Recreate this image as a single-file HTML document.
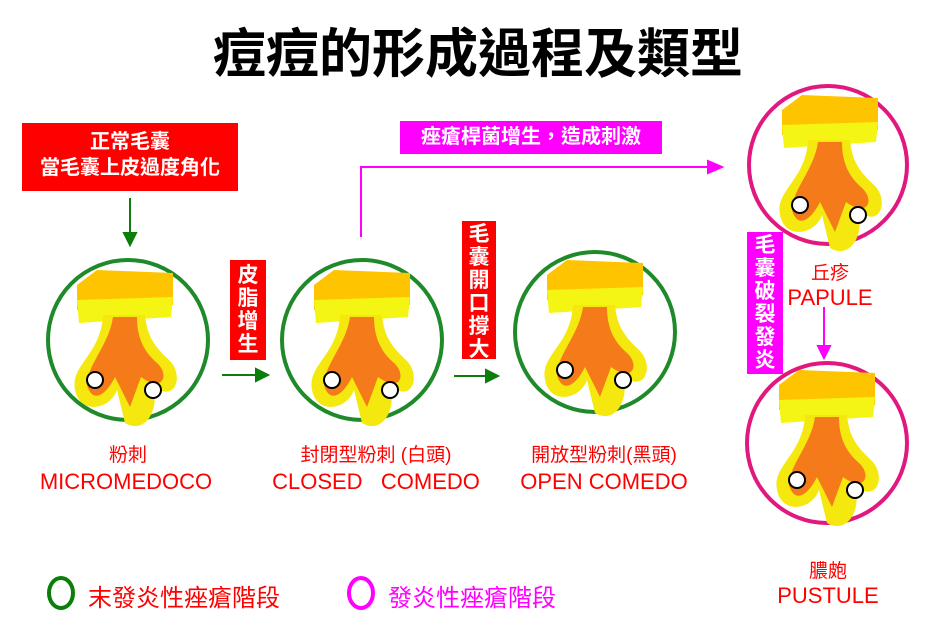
<!DOCTYPE html>
<html><head><meta charset="utf-8"><style>
body{margin:0;background:#fff;width:926px;height:629px;overflow:hidden;position:relative;font-family:"Liberation Sans","Noto Sans CJK TC",sans-serif}
.a{position:absolute}
.t{position:absolute;white-space:nowrap;text-align:center}
.vb{position:absolute;color:#fff;font-size:21px;line-height:23px;text-align:center;font-weight:bold}
</style></head><body>
<div class="t" style="left:0;width:956px;top:12px;font-size:53px;font-weight:bold;color:#000">痘痘的形成過程及類型</div>
<div class="a" style="left:22px;top:123px;width:216px;height:68px;background:#f00;color:#fff;font-size:20px;line-height:26px;text-align:center;padding-top:6px;box-sizing:border-box;font-weight:bold">正常毛囊<br>當毛囊上皮過度角化</div>
<div class="a" style="left:400px;top:121px;width:262px;height:33px;background:#f0f;color:#fff;font-size:20px;line-height:33px;text-align:center;font-weight:bold">痤瘡桿菌增生，造成刺激</div>
<div class="vb" style="left:230px;top:260px;width:36px;height:100px;background:#f00;padding-top:4px;box-sizing:border-box">皮<br>脂<br>增<br>生</div>
<div class="vb" style="left:462px;top:221px;width:34px;height:138px;background:#f00;padding-top:2px;box-sizing:border-box">毛<br>囊<br>開<br>口<br>撐<br>大</div>
<div class="vb" style="left:747px;top:232px;width:36px;height:142px;background:#f0f;padding-top:2px;box-sizing:border-box">毛<br>囊<br>破<br>裂<br>發<br>炎</div>
<svg class="a" style="left:0;top:0" width="926" height="629">
<defs>
<g id="f">
<path d="M-48,-60 L-28,-75 L48,-72 L48,-40 L-48,-35 Z" fill="#ffc400"/>
<path d="M-48,-45 L48,-48 L46,-28 L-46,-22 Z" fill="#f5f514"/>
<path d="M-22,-30 C-24,10 -55,20 -50,45 C-45,70 -15,65 -8,45 L0,78 C20,90 35,65 28,40 C50,60 60,30 44,15 C28,0 22,-10 20,-30 Z" fill="#f5e80f"/>
<path d="M-12,-28 C-16,0 -38,20 -38,40 C-33,58 -20,52 -10,32 L5,62 L16,32 C38,48 45,30 32,18 C17,5 12,-10 12,-28 Z" fill="#f47a1a"/>
<circle cx="-30" cy="35" r="8" fill="#fff" stroke="#000" stroke-width="2"/>
<circle cx="28" cy="45" r="8" fill="#fff" stroke="#000" stroke-width="2"/>
</g>
</defs>
<g fill="none" stroke-width="4">
<circle cx="128" cy="340" r="80" stroke="#1e8a2a"/>
<circle cx="362" cy="340" r="80" stroke="#1e8a2a"/>
<circle cx="595" cy="332" r="80" stroke="#1e8a2a"/>
<circle cx="828" cy="165" r="79" stroke="#e0187f"/>
<circle cx="827" cy="443" r="80" stroke="#e0187f"/>
<ellipse cx="61" cy="593" rx="12" ry="15" stroke="#0a7d0a"/>
<ellipse cx="361" cy="593" rx="12" ry="15" stroke="#f0f"/>
</g>
<use href="#f" x="125" y="345"/><use href="#f" x="362" y="345"/><use href="#f" x="595" y="335"/>
<use href="#f" x="830" y="170"/><use href="#f" x="827" y="445"/>
<g stroke="#0a7d0a" stroke-width="2" fill="#0a7d0a">
<line x1="130" y1="198" x2="130" y2="236"/><path d="M124,233 L136,233 L130,245 Z"/>
<line x1="222" y1="375" x2="258" y2="375"/><path d="M256,369 L256,381 L268,375 Z"/>
<line x1="454" y1="376" x2="488" y2="376"/><path d="M486,370 L486,382 L498,376 Z"/>
</g>
<g stroke="#f0f" stroke-width="2" fill="#f0f">
<polyline points="361,237 361,167 712,167" fill="none"/><path d="M708,161 L708,173 L722,167 Z"/>
<line x1="824" y1="307" x2="824" y2="348"/><path d="M818,346 L830,346 L824,358 Z"/>
</g>
</svg>
<div class="t" style="left:28px;width:200px;top:440px;font-size:19px;color:#f00">粉刺</div>
<div class="t" style="left:16px;width:220px;top:469px;font-size:22px;color:#f00">MICROMEDOCO</div>
<div class="t" style="left:266px;width:220px;top:440px;font-size:19px;color:#f00">封閉型粉刺 (白頭)</div>
<div class="t" style="left:266px;width:220px;top:469px;font-size:22px;color:#f00">CLOSED &nbsp; COMEDO</div>
<div class="t" style="left:494px;width:220px;top:440px;font-size:19px;color:#f00">開放型粉刺(黑頭)</div>
<div class="t" style="left:494px;width:220px;top:469px;font-size:22px;color:#f00">OPEN COMEDO</div>
<div class="t" style="left:780px;width:100px;top:258px;font-size:19px;color:#f00">丘疹</div>
<div class="t" style="left:770px;width:120px;top:285px;font-size:22px;color:#f00">PAPULE</div>
<div class="t" style="left:778px;width:100px;top:556px;font-size:19px;color:#f00">膿皰</div>
<div class="t" style="left:768px;width:120px;top:583px;font-size:22px;color:#f00">PUSTULE</div>
<div class="t" style="left:88px;top:578px;font-size:24px;color:#f00;text-align:left">末發炎性痤瘡階段</div>
<div class="t" style="left:388px;top:578px;font-size:24px;color:#f0f;text-align:left">發炎性痤瘡階段</div>
</body></html>
